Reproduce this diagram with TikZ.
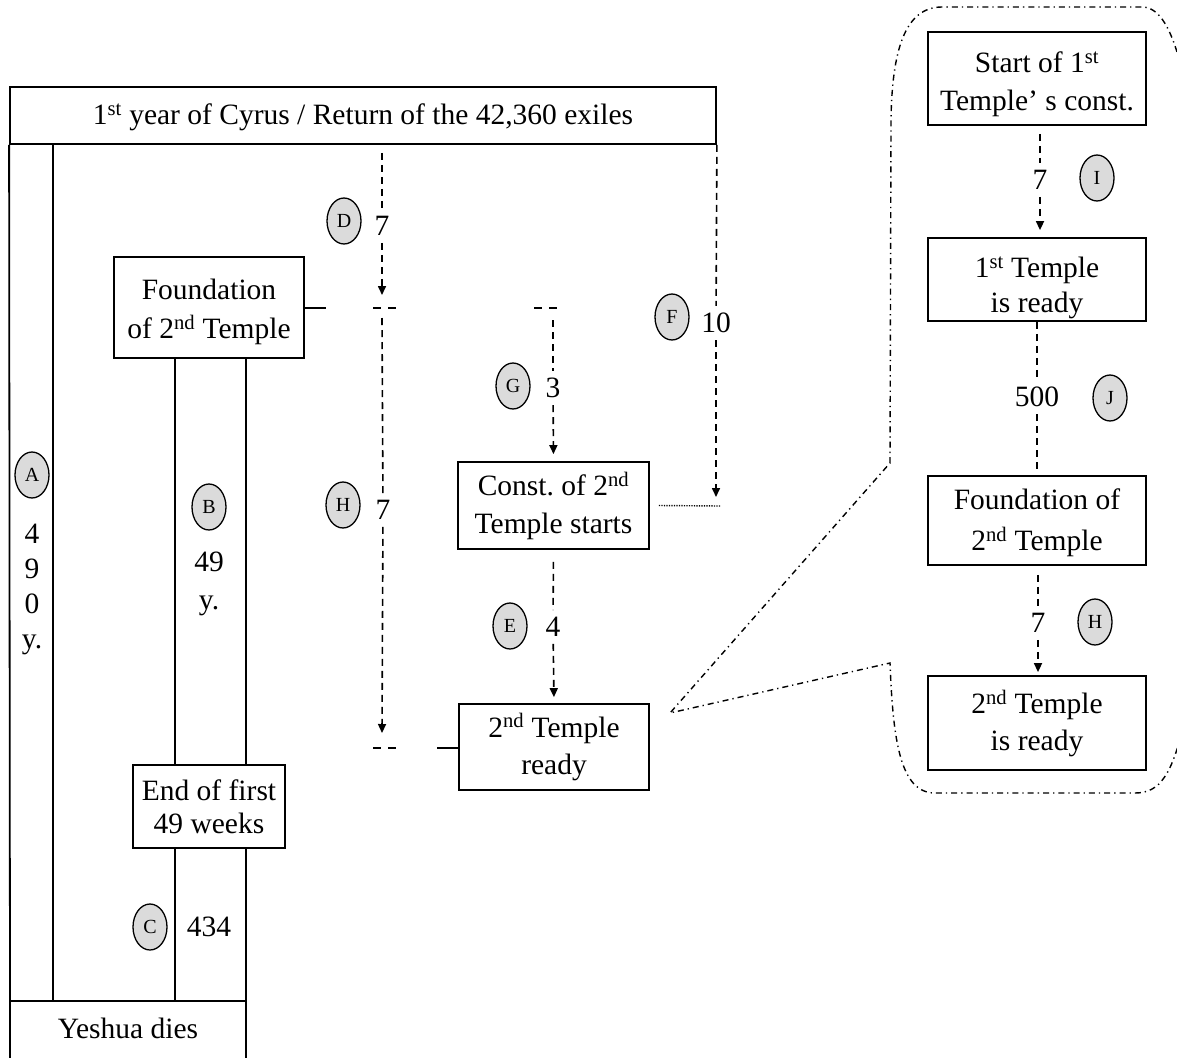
\documentclass[tikz,border=0pt]{standalone}
\usepackage{fontspec}
\setmainfont{Liberation Serif}
\usetikzlibrary{arrows.meta,shapes.geometric}
\frenchspacing
\newcommand\mainsz{\fontsize{29.5}{36}\selectfont}
\newcommand\tagsz{\fontsize{20}{24}\selectfont}
\tikzset{
  box/.style={draw, line width=1.8pt, inner sep=0pt, align=center, font=\mainsz},
  tag/.style={ellipse, draw, line width=1.3pt, fill=black!14, minimum width=34pt, minimum height=46pt, inner sep=0pt, font=\tagsz},
  num/.style={inner xsep=2pt, inner ysep=7pt, font=\mainsz},
  sline/.style={line width=1.8pt},
  dline/.style={line width=1.6pt, dash pattern=on 7pt off 5pt},
  tick/.style={line width=1.6pt, dash pattern=on 8pt off 7pt},
  arr/.style={-{Triangle[length=9pt,width=8pt]}},
  dotline/.style={line width=1.4pt, dash pattern=on 1.2pt off 1.3pt},
  callout/.style={line width=1.4pt, dash pattern=on 6pt off 4pt on 1.3pt off 4pt}
}
\begin{document}
\begin{tikzpicture}[x=1pt,y=-1pt]
\useasboundingbox (0,0) rectangle (1177,1057);
\clip (0,0) rectangle (1177,1057);
% main boxes
\node[box, minimum width=706pt, minimum height=57pt] (cyrus) at (363,115.5) {\rule{0pt}{25pt}1\textsuperscript{st} year of Cyrus / Return of the 42,360 exiles};
\node[box, minimum width=190pt, minimum height=101pt, font=\fontsize{29.5}{39}\selectfont] (found) at (209,307.5) {\rule{0pt}{29pt}Foundation\\of 2\textsuperscript{nd} Temple};
\node[box, minimum width=152pt, minimum height=83pt, font=\fontsize{29.5}{33}\selectfont] (endfirst) at (209,806.5) {End of first\\ 49 weeks};
\node[box, minimum width=191pt, minimum height=87pt, font=\fontsize{29.5}{38}\selectfont] (const) at (553.5,505.5) {Const. of 2\textsuperscript{nd}\\Temple starts};
\node[box, minimum width=190pt, minimum height=86pt, font=\fontsize{29.5}{37}\selectfont] (ready) at (554,747) {2\textsuperscript{nd} Temple\\ready};
\draw[sline] (10,1001) rectangle (246,1090);
\node[font=\mainsz] (yeshua) at (128,1028) {Yeshua dies};
% frame lines
\draw[sline] (cyrus.south west) -- (10,1001);
\draw[sline] (cyrus.south -| 53,0) -- (53,1001);
\draw[sline] (found.south -| 175,0) -- (endfirst.north -| 175,0);
\draw[sline] (found.south -| 246,0) -- (endfirst.north -| 246,0);
\draw[sline] (endfirst.south -| 175,0) -- (175,1001);
\draw[sline] (endfirst.south -| 246,0) -- (246,1001);
% column labels
\node[font=\fontsize{29.5}{35}\selectfont, align=center] (a490) at (32,589) {4\\9\\0\\y.};
\node[font=\fontsize{29.5}{38}\selectfont, align=center] (b49) at (209,584) {49\\y.};
\node[font=\mainsz] (c434) at (209,927) {434};
% tags
\node[tag] (tA) at (32,475) {A};
\node[tag] (tB) at (209,507) {B};
\node[tag] (tC) at (150,927) {C};
\node[tag] (tD) at (344,221) {D};
\node[tag] (tE) at (510,626) {E};
\node[tag] (tF) at (672,317) {F};
\node[tag] (tG) at (513,386) {G};
\node[tag] (tH) at (343,505) {H};
% number labels
\node[num] (d7) at (382,226) {7};
\node[num] (h7) at (383,510) {7};
\node[num] (g3) at (553,388) {3};
\node[num] (e4) at (553,627) {4};
\node[num] (f10) at (716,323) {10};
% coordinates
\coordinate (dtip) at (382,295);
\coordinate (htop) at (382,318);
\coordinate (htip) at (382,733);
\coordinate (gtop) at (553,320);
\coordinate (ftip) at (716,497);
% connectors
\draw[dline, shorten <=8pt] (cyrus.south -| d7) -- (d7);
\draw[dline, arr] (d7) -- (dtip);
\draw[tick] (373,308) -- (396,308);
\draw[dline] (htop) -- (h7);
\draw[dline, arr] (h7) -- (htip);
\draw[tick] (373,748) -- (396,748);
\draw[sline] (found.east |- 0,308) -- (326,308);
\draw[sline] (437,748) -- (ready.west |- 0,748);
\draw[tick] (534,308) -- (557,308);
\draw[dline] (gtop) -- (g3);
\draw[dline, arr, shorten >=7pt] (g3) -- (const.north);
\draw[dline, shorten <=12pt] (const.south) -- (e4);
\draw[dline, arr, shorten >=6pt] (e4) -- (ready.north);
\draw[dline] (cyrus.south east) -- (f10);
\draw[dline, arr] (f10) -- (ftip);
\draw[dotline] ([xshift=9pt]const.east) -- (720,506);
% callout
\draw[callout] (890,463) -- (891,120) .. controls (892,50) and (905,7) .. (942,7) -- (1142,7) .. controls (1160,7) and (1172,30) .. (1182,70) -- (1185,720) .. controls (1172,775) and (1160,793) .. (1135,793) -- (935,793) .. controls (900,793) and (893,740) .. (890,663) -- (670,713) -- cycle;
\node[box, minimum width=218pt, minimum height=93pt, font=\fontsize{29.5}{38}\selectfont] (s1) at (1037,78.5) {\rule{0pt}{33pt}Start of 1\textsuperscript{st}\\Temple' s const.};
\node[box, minimum width=218pt, minimum height=83pt, font=\fontsize{29.5}{35}\selectfont] (r1) at (1037,279.5) {\rule{0pt}{37pt}1\textsuperscript{st} Temple\\is ready};
\node[box, minimum width=218pt, minimum height=89pt, font=\fontsize{29.5}{41}\selectfont] (f2) at (1037,520.5) {\rule{0pt}{25pt}Foundation of\\2\textsuperscript{nd} Temple};
\node[box, minimum width=218pt, minimum height=94pt, font=\fontsize{29.5}{37}\selectfont] (r2) at (1037,723) {\rule{0pt}{25pt}2\textsuperscript{nd} Temple\\is ready};
\node[num] (i7) at (1040,180) {7};
\node[num] (j500) at (1037,397) {500};
\node[num] (h7b) at (1038,623) {7};
\node[tag] (tI) at (1097,178) {I};
\node[tag] (tJ) at (1110,398) {J};
\node[tag] (tH2) at (1095,622) {H};
\draw[dline, shorten <=8pt] (s1.south -| i7) -- (i7);
\draw[dline, arr, shorten >=7pt] (i7) -- (r1.north -| i7);
\draw[dline] (r1.south -| j500) -- (j500);
\draw[dline, shorten >=6pt] (j500) -- (f2.north -| j500);
\draw[dline, shorten <=9pt] (f2.south -| h7b) -- (h7b);
\draw[dline, arr, shorten >=3pt] (h7b) -- (r2.north -| h7b);
\end{tikzpicture}
\end{document}
